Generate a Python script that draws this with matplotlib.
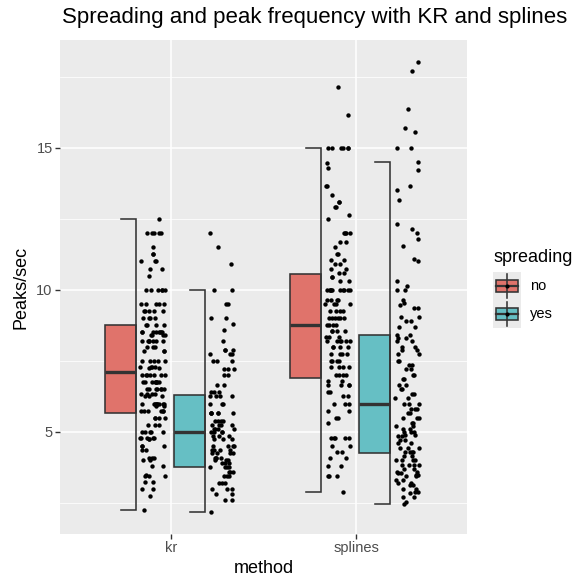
import numpy as np
import matplotlib
matplotlib.use("Agg")
import matplotlib.pyplot as plt
from matplotlib.patches import Rectangle

plt.rcParams['font.family'] = ['Liberation Sans', 'DejaVu Sans']

# ---------------- data ----------------
methods = ["kr", "splines"]
spreading_levels = ["no", "yes"]
fill_colors = ["#E0736B", "#66BFC4"]

# box statistics: (whisker_lo, q1, median, q3, whisker_hi)
box_kr_no = [2.25, 5.65, 7.1, 8.75, 12.5]
box_kr_yes = [2.2, 3.75, 5.0, 6.3, 10.0]
box_splines_no = [2.9, 6.9, 8.75, 10.55, 15.0]
box_splines_yes = [2.45, 4.25, 6.0, 8.4, 14.5]

pts_kr_no = [12.5, 12.0, 12.0, 12.0, 12.0, 12.0, 11.5, 11.25, 11.25, 11.0, 11.0, 11.0,
             10.75, 10.75, 10.5, 10.0, 10.0, 10.0, 10.0, 10.0, 10.0,
             9.5, 9.5, 9.5, 9.5, 9.5, 9.25, 9.25, 9.25, 9.25, 9.25, 9.0, 9.0, 9.0, 9.0,
             8.75, 8.75, 8.75, 8.75, 8.5, 8.5, 8.5, 8.5, 8.5, 8.5, 8.5, 8.5,
             8.4, 8.4, 8.4, 8.4, 8.2, 8.2, 8.2, 8.2, 8.2, 8.2, 8.2,
             8.0, 8.0, 8.0, 7.85, 7.85, 7.85, 7.5, 7.5, 7.5, 7.5, 7.5,
             7.3, 7.3, 7.3, 7.3, 7.25, 7.25, 7.0, 7.0, 7.0, 7.0, 7.0, 7.0, 7.0,
             6.75, 6.75, 6.75, 6.75, 6.75, 6.75, 6.75, 6.75,
             6.5, 6.5, 6.5, 6.5, 6.5, 6.5, 6.5, 6.35, 6.35, 6.35, 6.35,
             6.25, 6.25, 6.25, 6.0, 6.0, 6.0, 6.0, 6.0, 6.0, 6.0, 6.0, 6.0,
             5.9, 5.9, 5.75, 5.75, 5.75, 5.75, 5.75, 5.75, 5.5, 5.5, 5.5, 5.5,
             5.25, 5.25, 5.25, 5.0, 5.0, 5.0, 5.0, 5.0, 4.8, 4.8, 4.8, 4.8, 4.8,
             4.75, 4.75, 4.5, 4.5, 4.5, 4.35, 4.35, 4.1, 4.1, 4.1, 4.0, 4.0,
             3.8, 3.8, 3.5, 3.45, 3.45, 3.45, 3.25, 3.25, 3.0, 3.0, 2.75, 2.25]

pts_kr_yes = [12.0, 11.5, 10.9, 10.0, 10.0, 9.5, 9.5, 9.0, 9.0, 8.8, 8.6, 8.2,
              7.9, 7.9, 7.9, 7.75, 7.75, 7.75, 7.5, 7.5, 7.5, 7.2, 7.2, 7.2, 7.0, 7.0,
              6.65, 6.65, 6.4, 6.4, 6.4, 6.25, 6.25, 6.25, 6.25, 6.0, 6.0, 6.0,
              5.65, 5.65, 5.65, 5.65, 5.65, 5.65, 5.4, 5.4, 5.4, 5.4, 5.25, 5.25, 5.25, 5.25,
              5.1, 5.1, 5.1, 5.1, 5.0, 5.0, 5.0, 5.0, 4.85, 4.85, 4.85, 4.75, 4.75, 4.75,
              4.5, 4.5, 4.5, 4.5, 4.35, 4.35, 4.35, 4.35, 4.25, 4.25, 4.25, 4.25,
              4.1, 4.1, 4.1, 4.1, 4.0, 4.0, 4.0, 3.9, 3.9, 3.9, 3.75, 3.75, 3.75, 3.75,
              3.6, 3.6, 3.6, 3.45, 3.45, 3.45, 3.2, 3.2, 3.2, 3.0, 3.0, 3.0,
              2.8, 2.8, 2.6, 2.6, 2.2]

pts_splines_no = [17.15, 16.15, 15.0, 15.0, 15.0, 15.0, 15.0, 15.0, 14.45, 14.3,
                  13.65, 13.65, 13.35, 13.1, 13.1, 12.9, 12.9, 12.65, 12.5,
                  12.0, 12.0, 12.0, 12.0, 11.7, 11.7, 11.5, 11.25, 11.25, 11.05, 11.05,
                  10.9, 10.9, 10.75, 10.75, 10.6, 10.6, 10.45, 10.45, 10.3, 10.3,
                  10.0, 10.0, 10.0, 10.0, 10.0, 10.0, 10.0, 10.0, 10.0, 10.0,
                  9.65, 9.65, 9.65, 9.65, 9.5, 9.5, 9.5, 9.5, 9.25, 9.25, 9.25, 9.25,
                  9.0, 9.0, 9.0, 9.0, 9.0, 9.0, 8.75, 8.75, 8.75, 8.75, 8.55, 8.55, 8.55, 8.55,
                  8.35, 8.35, 8.35, 8.2, 8.2, 8.2, 8.2, 8.2, 8.2, 8.0, 8.0, 8.0, 8.0,
                  7.75, 7.75, 7.75, 7.75, 7.5, 7.5, 7.5, 7.5, 7.3, 7.3, 7.3, 7.3,
                  7.0, 7.0, 7.0, 7.0, 6.8, 6.8, 6.65, 6.65, 6.65, 6.65, 6.4, 6.4, 6.25, 6.25,
                  6.0, 6.0, 6.0, 5.75, 5.75, 5.5, 5.5, 5.3, 4.8, 4.8, 4.8, 4.8, 4.8,
                  4.5, 4.5, 4.3, 4.3, 4.1, 4.1, 3.8, 3.8, 3.45, 3.45, 3.45, 2.9]

pts_splines_yes = [18.0, 17.7, 16.35, 15.7, 15.55, 15.0, 15.0, 14.5, 14.2, 13.65, 13.5, 13.15,
                   12.3, 12.15, 12.0, 11.8, 11.55, 11.1, 11.0, 10.3, 10.15, 10.0, 10.0,
                   9.65, 9.55, 9.45, 9.35, 9.35, 9.05, 9.05, 8.9, 8.9, 8.7, 8.7, 8.4, 8.4,
                   8.3, 8.3, 8.2, 8.2, 8.0, 8.0, 7.9, 7.9, 7.75, 7.75, 7.5, 7.5, 7.35, 7.35,
                   7.2, 7.2, 7.0, 7.0, 6.85, 6.85, 6.65, 6.65, 6.5, 6.5, 6.35, 6.35, 6.2, 6.2,
                   6.0, 6.0, 6.0, 5.8, 5.8, 5.8, 5.65, 5.65, 5.5, 5.5, 5.5, 5.3, 5.3,
                   5.2, 5.2, 5.1, 5.1, 5.0, 5.0, 5.0, 4.9, 4.9, 4.85, 4.85, 4.7, 4.7, 4.6, 4.6,
                   4.45, 4.45, 4.45, 4.3, 4.3, 4.3, 4.3, 4.15, 4.15, 4.0, 4.0, 4.0, 4.0,
                   3.85, 3.85, 3.85, 3.85, 3.7, 3.7, 3.6, 3.6, 3.55, 3.55, 3.5, 3.5,
                   3.45, 3.45, 3.3, 3.3, 3.2, 3.2, 3.15, 3.15, 3.0, 3.0, 2.9, 2.9,
                   2.85, 2.7, 2.7, 2.55, 2.45]

boxes = {("kr", "no"): box_kr_no, ("kr", "yes"): box_kr_yes,
         ("splines", "no"): box_splines_no, ("splines", "yes"): box_splines_yes}
points = {("kr", "no"): pts_kr_no, ("kr", "yes"): pts_kr_yes,
          ("splines", "no"): pts_splines_no, ("splines", "yes"): pts_splines_yes}

# ---------------- figure ----------------
W, H = 578, 576
fig = plt.figure(figsize=(W / 100, H / 100), dpi=100)
fig.patch.set_facecolor("white")

pl, pr, pt, pb = 60, 467, 40, 534
ax = fig.add_axes([pl / W, 1 - pb / H, (pr - pl) / W, (pb - pt) / H])
ax.set_facecolor("#EBEBEB")
for s in ax.spines.values():
    s.set_visible(False)

dodge = 0.1866
box_w = 0.168
cap_w = 0.081
jit_center = 0.088
jit_half = 0.068


def jitter_frac(k):
    # deterministic hash-style spread in [0, 1) for horizontal jitter
    return (np.sin(k * 12.9898 + 78.233) * 43758.5453) % 1.0


for i, m in enumerate(methods):
    xc = i + 1
    for j, sp in enumerate(spreading_levels):
        gc = xc + (-dodge if j == 0 else dodge)
        lo, q1, med, q3, hi = boxes[(m, sp)]
        right = gc - 0.002
        left = right - box_w
        ax.add_patch(Rectangle((left, q1), box_w, q3 - q1, facecolor=fill_colors[j],
                               edgecolor="#333333", lw=1.15, zorder=3))
        ax.plot([left, right], [med, med], color="#333333", lw=2.4, zorder=4,
                solid_capstyle="butt")
        ax.plot([right - cap_w, right, right, right - cap_w], [hi, hi, lo, lo],
                color="#333333", lw=1.15, zorder=3, solid_joinstyle="miter")
        vals = np.array(points[(m, sp)], dtype=float)
        k = np.arange(len(vals)) + 1 + 200 * i + 100 * j
        frac = jitter_frac(k.astype(float))
        xs = gc + jit_center + (frac * 2 - 1) * jit_half
        ax.scatter(xs, vals, s=10, color="black", zorder=5, linewidths=0)

allv = np.concatenate([np.array(v) for v in points.values()])
rng = allv.max() - allv.min()
ax.set_ylim(allv.min() - 0.05 * rng, allv.max() + 0.05 * rng)
ax.set_xlim(0.4, 2.6)

ax.set_yticks([5, 10, 15])
ax.set_yticks([2.5, 7.5, 12.5, 17.5], minor=True)
ax.set_xticks([1, 2])
ax.set_xticklabels(methods)
ax.grid(which="major", color="white", lw=1.15, zorder=0)
ax.grid(which="minor", axis="y", color="white", lw=0.55, zorder=0)
ax.set_axisbelow(True)
ax.tick_params(which="major", length=3.3, width=1.0, color="#333333",
               labelsize=10.5, labelcolor="#4D4D4D", pad=2)
ax.tick_params(which="minor", length=0)

ax.set_ylabel("Peaks/sec", fontsize=13, color="black", labelpad=5)
ax.set_xlabel("method", fontsize=13, color="black", labelpad=3)

fig.text(62 / W, 1 - 18 / H, "Spreading and peak frequency with KR and splines",
         fontsize=16, ha="left", va="center", color="black")

# ---------------- legend ----------------
fig.text(493 / W, 1 - 257 / H, "spreading", fontsize=13, ha="left", va="center")
key_top = 272
key_size = 28
for j, sp in enumerate(spreading_levels):
    y0 = key_top + j * key_size
    kax = fig.add_axes([493 / W, 1 - (y0 + key_size) / H, key_size / W, key_size / H])
    kax.set_xlim(0, 1)
    kax.set_ylim(0, 1)
    kax.set_facecolor("#EBEBEB")
    kax.set_xticks([])
    kax.set_yticks([])
    for s in kax.spines.values():
        s.set_visible(False)
    kax.plot([0.5, 0.5], [0.08, 0.92], color="#333333", lw=1.15)
    kax.add_patch(Rectangle((0.1, 0.27), 0.8, 0.46, facecolor=fill_colors[j],
                            edgecolor="#333333", lw=1.15))
    kax.plot([0.1, 0.9], [0.5, 0.5], color="#333333", lw=1.6)
    kax.scatter([0.5], [0.5], s=9, color="black", zorder=5, linewidths=0)
    fig.text(530 / W, 1 - (y0 + key_size / 2) / H, sp, fontsize=10.5,
             ha="left", va="center")

fig.savefig("out.png", dpi=100)
